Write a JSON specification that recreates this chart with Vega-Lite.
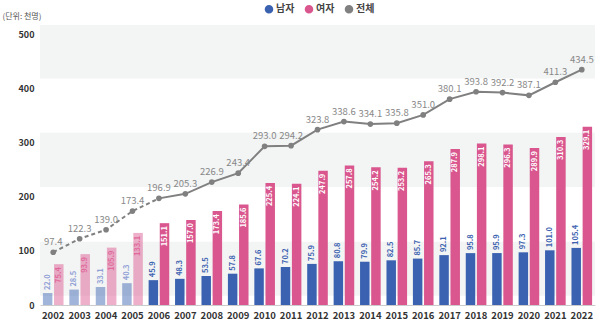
{
  "$schema": "https://vega.github.io/schema/vega-lite/v6.json",
  "autosize": {"type": "none"},
  "width": 555,
  "height": 280,
  "padding": {"left": 40, "top": 25, "right": 5, "bottom": 19},
  "background": "white",
  "config": {
    "font": "Noto Sans CJK KR",
    "view": {"stroke": null}
  },
  "datasets": {
    "bands": [
      {"lo": 17, "hi": 117},
      {"lo": 218, "hi": 318},
      {"lo": 418, "hi": 517}
    ],
    "bars": [
      {"year": 2002, "sex": "남자", "value": 22.0}, {"year": 2002, "sex": "여자", "value": 75.4},
      {"year": 2003, "sex": "남자", "value": 28.5}, {"year": 2003, "sex": "여자", "value": 93.9},
      {"year": 2004, "sex": "남자", "value": 33.1}, {"year": 2004, "sex": "여자", "value": 105.9},
      {"year": 2005, "sex": "남자", "value": 40.3}, {"year": 2005, "sex": "여자", "value": 133.1},
      {"year": 2006, "sex": "남자", "value": 45.9}, {"year": 2006, "sex": "여자", "value": 151.1},
      {"year": 2007, "sex": "남자", "value": 48.3}, {"year": 2007, "sex": "여자", "value": 157.0},
      {"year": 2008, "sex": "남자", "value": 53.5}, {"year": 2008, "sex": "여자", "value": 173.4},
      {"year": 2009, "sex": "남자", "value": 57.8}, {"year": 2009, "sex": "여자", "value": 185.6},
      {"year": 2010, "sex": "남자", "value": 67.6}, {"year": 2010, "sex": "여자", "value": 225.4},
      {"year": 2011, "sex": "남자", "value": 70.2}, {"year": 2011, "sex": "여자", "value": 224.1},
      {"year": 2012, "sex": "남자", "value": 75.9}, {"year": 2012, "sex": "여자", "value": 247.9},
      {"year": 2013, "sex": "남자", "value": 80.8}, {"year": 2013, "sex": "여자", "value": 257.8},
      {"year": 2014, "sex": "남자", "value": 79.9}, {"year": 2014, "sex": "여자", "value": 254.2},
      {"year": 2015, "sex": "남자", "value": 82.5}, {"year": 2015, "sex": "여자", "value": 253.2},
      {"year": 2016, "sex": "남자", "value": 85.7}, {"year": 2016, "sex": "여자", "value": 265.3},
      {"year": 2017, "sex": "남자", "value": 92.1}, {"year": 2017, "sex": "여자", "value": 287.9},
      {"year": 2018, "sex": "남자", "value": 95.8}, {"year": 2018, "sex": "여자", "value": 298.1},
      {"year": 2019, "sex": "남자", "value": 95.9}, {"year": 2019, "sex": "여자", "value": 296.3},
      {"year": 2020, "sex": "남자", "value": 97.3}, {"year": 2020, "sex": "여자", "value": 289.9},
      {"year": 2021, "sex": "남자", "value": 101.0}, {"year": 2021, "sex": "여자", "value": 310.3},
      {"year": 2022, "sex": "남자", "value": 105.4}, {"year": 2022, "sex": "여자", "value": 329.1}
    ],
    "total": [
      {"year": 2002, "total": 97.4}, {"year": 2003, "total": 122.3}, {"year": 2004, "total": 139.0},
      {"year": 2005, "total": 173.4}, {"year": 2006, "total": 196.9}, {"year": 2007, "total": 205.3},
      {"year": 2008, "total": 226.9}, {"year": 2009, "total": 243.4}, {"year": 2010, "total": 293.0},
      {"year": 2011, "total": 294.2}, {"year": 2012, "total": 323.8}, {"year": 2013, "total": 338.6},
      {"year": 2014, "total": 334.1}, {"year": 2015, "total": 335.8}, {"year": 2016, "total": 351.0},
      {"year": 2017, "total": 380.1}, {"year": 2018, "total": 393.8}, {"year": 2019, "total": 392.2},
      {"year": 2020, "total": 387.1}, {"year": 2021, "total": 411.3}, {"year": 2022, "total": 434.5}
    ]
  },
  "layer": [
    {
      "data": {"name": "bands"},
      "mark": {"type": "rect", "color": "#f3f4f4"},
      "encoding": {
        "y": {"field": "lo", "type": "quantitative", "scale": {"domain": [0, 517], "nice": false},
          "axis": {"values": [0, 100, 200, 300, 400, 500], "grid": false, "domain": false, "ticks": false, "labelFontSize": 9, "labelFontWeight": "bold", "labelColor": "#333", "labelPadding": 6,
            "title": "(단위: 천명)", "titleAngle": 0, "titleAlign": "left", "titleBaseline": "middle", "titleX": -38, "titleY": -9, "titleFontSize": 8, "titleFontWeight": "normal", "titleColor": "#555"}},
        "y2": {"field": "hi"}
      }
    },
    {
      "data": {"name": "bars"},
      "layer": [
        {
          "mark": {"type": "bar"},
          "encoding": {
            "x": {"field": "year", "type": "ordinal", "scale": {"paddingInner": 0.22, "paddingOuter": 0.11},
              "axis": {"title": null, "labelAngle": 0, "labelFontSize": 9.5, "labelFontWeight": "bold", "labelColor": "#333", "domainColor": "#cccccc", "ticks": false, "labelPadding": 5}},
            "xOffset": {"field": "sex", "type": "nominal", "scale": {"paddingInner": 0.15}},
            "y": {"field": "value", "type": "quantitative"},
            "color": {"field": "sex", "type": "nominal",
              "scale": {"domain": ["남자", "여자", "전체"], "range": ["#3b62b0", "#d9578e", "#808080"]},
              "legend": {"orient": "none", "direction": "horizontal", "legendX": 224, "legendY": -21, "title": null,
                "symbolSize": 50, "labelFontSize": 10, "labelFontWeight": "bold", "labelColor": "#444", "symbolOffset": 0, "labelOffset": 2, "columnPadding": 7,
                "encode": {"symbols": {"update": {"shape": {"signal": "datum.label === '전체' ? 'circle' : 'square'"}, "strokeWidth": {"value": 0}}}}}},
            "opacity": {"condition": {"test": "datum.year <= 2005", "value": 0.48}, "value": 1}
          }
        },
        {
          "transform": [{"filter": "datum.sex === '여자'"}],
          "mark": {"type": "text", "angle": 270, "align": "right", "baseline": "middle", "dx": -3, "fontSize": 7.5, "fontWeight": "bold"},
          "encoding": {
            "x": {"field": "year", "type": "ordinal"},
            "xOffset": {"field": "sex", "type": "nominal"},
            "y": {"field": "value", "type": "quantitative"},
            "text": {"field": "value", "type": "quantitative", "format": ".1f"},
            "color": {"condition": {"test": "datum.year <= 2005", "value": "#e0699c"}, "value": "#ffffff"}
          }
        },
        {
          "transform": [{"filter": "datum.sex === '남자'"}],
          "mark": {"type": "text", "angle": 270, "align": "left", "baseline": "middle", "dx": 3, "fontSize": 7.5, "fontWeight": "bold"},
          "encoding": {
            "x": {"field": "year", "type": "ordinal"},
            "xOffset": {"field": "sex", "type": "nominal"},
            "y": {"field": "value", "type": "quantitative"},
            "text": {"field": "value", "type": "quantitative", "format": ".1f"},
            "color": {"condition": {"test": "datum.year <= 2005", "value": "#8fa0d6"}, "value": "#3b62b0"}
          }
        }
      ]
    },
    {
      "data": {"name": "total"},
      "layer": [
        {
          "transform": [{"filter": "datum.year <= 2006"}],
          "mark": {"type": "line", "strokeWidth": 2, "strokeDash": [4, 3]},
          "encoding": {
            "x": {"field": "year", "type": "ordinal"},
            "y": {"field": "total", "type": "quantitative"},
            "color": {"datum": "전체"}
          }
        },
        {
          "transform": [{"filter": "datum.year >= 2006"}],
          "mark": {"type": "line", "strokeWidth": 2},
          "encoding": {
            "x": {"field": "year", "type": "ordinal"},
            "y": {"field": "total", "type": "quantitative"},
            "color": {"datum": "전체"}
          }
        },
        {
          "mark": {"type": "point", "filled": true, "size": 32, "opacity": 1},
          "encoding": {
            "x": {"field": "year", "type": "ordinal"},
            "y": {"field": "total", "type": "quantitative"},
            "color": {"datum": "전체"}
          }
        },
        {
          "mark": {"type": "text", "dy": -10, "fontSize": 9.5, "color": "#888888"},
          "encoding": {
            "x": {"field": "year", "type": "ordinal"},
            "y": {"field": "total", "type": "quantitative"},
            "text": {"field": "total", "type": "quantitative", "format": ".1f"}
          }
        }
      ]
    }
  ]
}
